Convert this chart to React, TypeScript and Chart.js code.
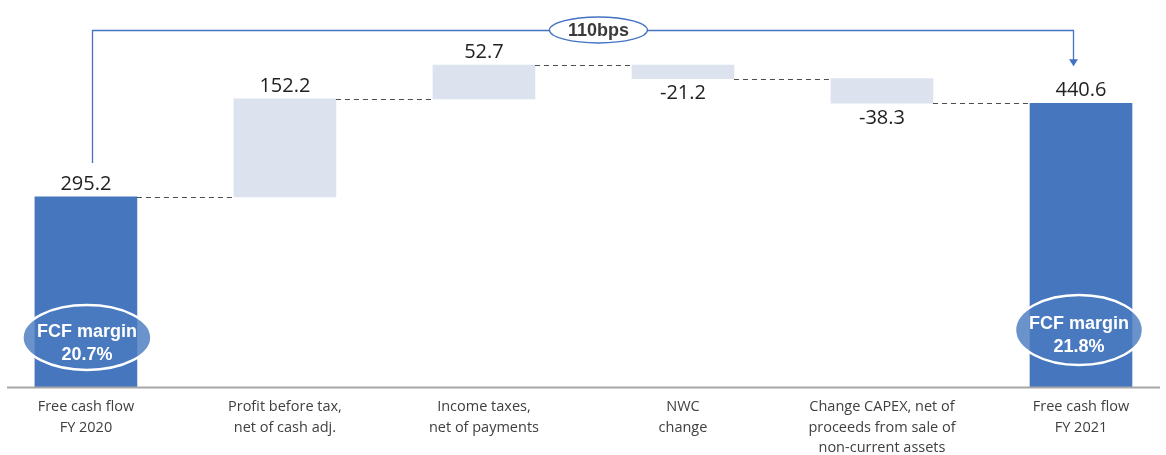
import React, { useEffect, useRef } from "react";
import { Chart, registerables } from "chart.js";

Chart.register(...registerables);

const categories: string[][] = [
  ["Free cash flow", "FY 2020"],
  ["Profit before tax,", "net of cash adj."],
  ["Income taxes,", "net of payments"],
  ["NWC", "change"],
  ["Change CAPEX, net of", "proceeds from sale of", "non-current assets"],
  ["Free cash flow", "FY 2021"],
];
const changes = [295.2, 152.2, 52.7, -21.2, -38.3, 440.6];
const totalFlags = [true, false, false, false, false, true];
const valueLabels = ["295.2", "152.2", "52.7", "-21.2", "-38.3", "440.6"];
const marginTitle = "FCF margin";
const marginValues = ["20.7%", "21.8%"];
const deltaLabel = "110bps";

const BLUE = "#4677BE";
const LIGHT = "#DCE3EE";
const LINE_BLUE = "#4472C4";

function buildFloating(): number[][] {
  let run = 0;
  const out: number[][] = [];
  changes.forEach((v, i) => {
    if (totalFlags[i]) {
      out.push([0, v]);
      run = v;
    } else {
      out.push([run, run + v]);
      run += v;
    }
  });
  return out;
}

function ellipse(ctx: CanvasRenderingContext2D, cx: number, cy: number, rx: number, ry: number) {
  ctx.beginPath();
  ctx.ellipse(cx, cy, rx, ry, 0, 0, Math.PI * 2);
}

const overlayPlugin = {
  id: "waterfallOverlay",
  afterDatasetsDraw(chart: any) {
    const ctx: CanvasRenderingContext2D = chart.ctx;
    const meta = chart.getDatasetMeta(0);
    const y = chart.scales.y;
    const floating = buildFloating();
    const area = chart.chartArea;
    const bars = meta.data;

    ctx.save();
    // connectors
    ctx.strokeStyle = "#4D4D4D";
    ctx.lineWidth = 1;
    ctx.setLineDash([5, 4]);
    for (let i = 0; i < bars.length - 1; i++) {
      const level = floating[i][1];
      const py = Math.round(y.getPixelForValue(level)) + 0.5;
      const x1 = bars[i].x + bars[i].width / 2;
      const x2 = bars[i + 1].x - bars[i + 1].width / 2;
      ctx.beginPath();
      ctx.moveTo(x1, py);
      ctx.lineTo(x2, py);
      ctx.stroke();
    }
    ctx.setLineDash([]);

    // axis line
    const axisY = y.getPixelForValue(0);
    ctx.strokeStyle = "#A6A6A6";
    ctx.lineWidth = 2;
    ctx.beginPath();
    ctx.moveTo(area.left, axisY + 0.5);
    ctx.lineTo(area.right, axisY + 0.5);
    ctx.stroke();

    // value labels
    ctx.fillStyle = "#222222";
    ctx.font = "20px 'Open Sans'";
    ctx.textAlign = "center";
    ctx.textBaseline = "middle";
    bars.forEach((b: any, i: number) => {
      const [s, e] = floating[i];
      if (changes[i] >= 0) {
        ctx.fillText(valueLabels[i], b.x, y.getPixelForValue(Math.max(s, e)) - 13);
      } else {
        ctx.fillText(valueLabels[i], b.x, y.getPixelForValue(Math.min(s, e)) + 15);
      }
    });

    // category labels
    ctx.fillStyle = "#404040";
    ctx.font = "14.5px 'Open Sans'";
    bars.forEach((b: any, i: number) => {
      categories[i].forEach((line, j) => {
        ctx.fillText(line, b.x, axisY + 20 + j * 20.5);
      });
    });

    // bracket with arrow
    const first = bars[0];
    const last = bars[bars.length - 1];
    const lx = Math.round(first.x + 6) + 0.5;
    const rx = Math.round(last.x - 8) + 0.5;
    const startY = y.getPixelForValue(floating[0][1]) - 34;
    const topY = 30.5;
    const tipY = y.getPixelForValue(floating[floating.length - 1][1]) - 37;
    ctx.strokeStyle = LINE_BLUE;
    ctx.lineWidth = 1.3;
    ctx.beginPath();
    ctx.moveTo(lx, startY);
    ctx.lineTo(lx, topY);
    ctx.lineTo(rx, topY);
    ctx.lineTo(rx, tipY - 5);
    ctx.stroke();
    ctx.fillStyle = LINE_BLUE;
    ctx.beginPath();
    ctx.moveTo(rx - 4.5, tipY - 7);
    ctx.lineTo(rx + 4.5, tipY - 7);
    ctx.lineTo(rx, tipY);
    ctx.closePath();
    ctx.fill();

    // bps ellipse
    const bx = (first.x + last.x) / 2 + 15;
    ellipse(ctx, bx, 30, 49, 13);
    ctx.fillStyle = "#FFFFFF";
    ctx.fill();
    ctx.strokeStyle = LINE_BLUE;
    ctx.lineWidth = 1.3;
    ctx.stroke();
    ctx.fillStyle = "#3A3A3A";
    ctx.font = "bold 18px 'Liberation Sans'";
    ctx.fillText(deltaLabel, bx, 31);

    // margin ellipses
    const ells = [
      { b: first, dx: 1, cy: axisY - 49.5, rx: 64.5, ry: 32.5 },
      { b: last, dx: -2, cy: axisY - 57, rx: 64, ry: 35 },
    ];
    ells.forEach((e, k) => {
      const cx = e.b.x + e.dx;
      ellipse(ctx, cx, e.cy, e.rx, e.ry);
      ctx.fillStyle = "rgba(74,123,191,0.82)";
      ctx.fill();
      ctx.strokeStyle = "#FFFFFF";
      ctx.lineWidth = 2.5;
      ctx.stroke();
      ctx.fillStyle = "#FFFFFF";
      ctx.font = "bold 18px 'Liberation Sans'";
      ctx.fillText(marginTitle, cx, e.cy - 5.5);
      ctx.fillText(marginValues[k], cx, e.cy + 17.5);
    });

    ctx.restore();
  },
};

export default function App() {
  const ref = useRef<HTMLCanvasElement | null>(null);

  useEffect(() => {
    if (!ref.current) return;
    const floating = buildFloating();
    const chart = new Chart(ref.current, {
      type: "bar",
      data: {
        datasets: [
          {
            data: floating.map((r, i) => ({ x: i, y: r })) as any,
            backgroundColor: totalFlags.map((t) => (t ? BLUE : LIGHT)),
            borderWidth: 0,
            barThickness: 102,
          },
        ],
      },
      options: {
        animation: false,
        responsive: false,
        devicePixelRatio: 1,
        layout: { padding: { left: 7, right: 6, top: 0, bottom: 68 } },
        plugins: { legend: { display: false }, tooltip: { enabled: false } },
        scales: {
          x: { type: "linear", min: -0.3965, max: 5.397, offset: false, display: false },
          y: { type: "linear", min: 0, max: 601, display: false },
        },
      },
      plugins: [overlayPlugin],
    });
    return () => chart.destroy();
  }, []);

  return (
    <div style={{ position: "fixed", left: 0, top: 0, width: 1166, height: 455, background: "#fff" }}>
      <canvas ref={ref} width={1166} height={455} />
    </div>
  );
}
